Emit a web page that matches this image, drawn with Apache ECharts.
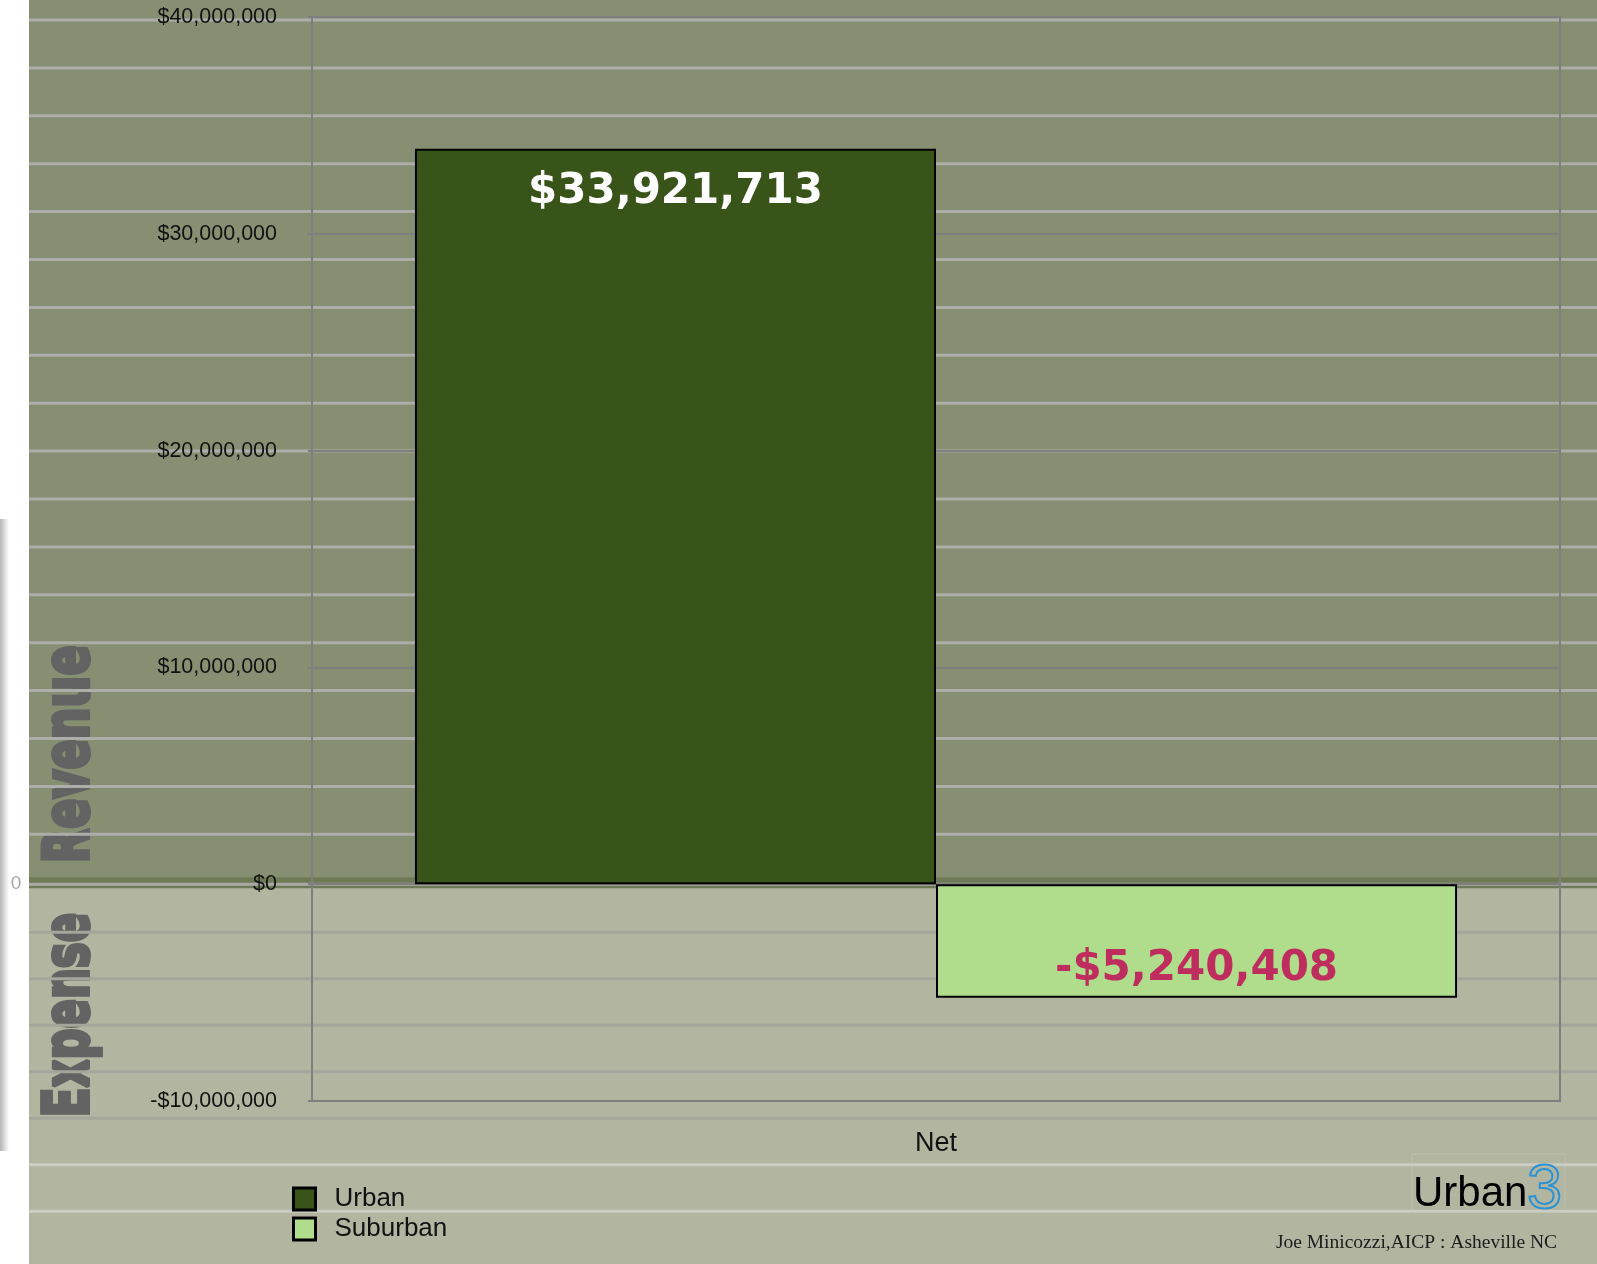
<!DOCTYPE html>
<html>
<head>
<meta charset="utf-8">
<script src="https://cdn.jsdelivr.net/npm/echarts@6/dist/echarts.min.js"></script>
<style>
  html, body { margin: 0; padding: 0; background: #ffffff; }
  #chart { width: 1597px; height: 1264px; }
</style>
</head>
<body>
<div id="chart"></div>
<script>
// Net fiscal result, urban vs suburban development
const CATEGORIES = ['Net'];
const SERIES_NAMES = ['Urban', 'Suburban'];
const URBAN_VALUES = [33921713];
const SUBURBAN_VALUES = [-5240408];
const Y_TICKS = [-10000000, 0, 10000000, 20000000, 30000000, 40000000];
const BAND_LABELS = ['Revenue', 'Expense'];
const ZERO_MARK = '0';
const LOGO_WORD = 'Urban';
const LOGO_DIGIT = '3';
const CREDIT = 'Joe Minicozzi,AICP : Asheville NC';

function money(v) {
  const s = '$' + String(Math.abs(v)).replace(/\B(?=(\d{3})+(?!\d))/g, ',');
  return v < 0 ? '-' + s : s;
}

const W = 1597, H = 1264;
const FRAME = '#7f7f7f';
const chart = echarts.init(document.getElementById('chart'), null, { renderer: 'canvas' });

const labelFont = {
  fontFamily: '"DejaVu Sans", Verdana, sans-serif',
  fontWeight: 'bold',
  fontSize: 42
};

// split line colours follow the tick order; the zero rule is drawn separately
const splitColors = Y_TICKS.map(t => (t === 0 ? 'rgba(0,0,0,0)' : FRAME));

chart.setOption({
  backgroundColor: '#ffffff',
  animation: false,
  grid: {
    left: 312, right: 37, top: 17, bottom: 163,
    show: true, borderColor: FRAME, borderWidth: 2, backgroundColor: 'transparent'
  },
  legend: {
    orient: 'vertical',
    left: 287, top: 1181,
    itemWidth: 22, itemHeight: 22, itemGap: 4,
    icon: 'rect',
    data: SERIES_NAMES,
    itemStyle: { borderColor: '#000', borderWidth: 3 },
    textStyle: {
      fontFamily: '"Liberation Sans", Arial, sans-serif',
      fontSize: 26, color: '#111', padding: [0, 0, 0, 14]
    }
  },
  xAxis: {
    type: 'category',
    data: CATEGORIES,
    axisLine: { show: true, lineStyle: { color: FRAME, width: 2 } },
    axisTick: { show: true, length: 5, lineStyle: { color: FRAME, width: 2 } },
    axisLabel: {
      fontFamily: '"Liberation Sans", Arial, sans-serif',
      fontSize: 27, color: '#111', margin: 29
    },
    splitLine: { show: false }
  },
  yAxis: {
    type: 'value',
    min: Y_TICKS[0],
    max: Y_TICKS[Y_TICKS.length - 1],
    interval: Y_TICKS[1] - Y_TICKS[0],
    axisLine: { show: true, lineStyle: { color: FRAME, width: 2 } },
    axisTick: { show: true, length: 4, lineStyle: { color: FRAME, width: 2 } },
    axisLabel: {
      formatter: money,
      fontFamily: '"Liberation Sans", Arial, sans-serif',
      fontSize: 21.5, color: '#111', margin: 35
    },
    splitLine: { show: true, lineStyle: { color: splitColors, width: 2 } }
  },
  series: [
    {
      name: SERIES_NAMES[0],
      type: 'bar',
      data: URBAN_VALUES,
      barGap: '0%',
      barCategoryGap: '16.5%',
      itemStyle: { color: '#385418', borderColor: '#000', borderWidth: 2 },
      label: Object.assign({
        show: true, position: 'insideTop', distance: 22,
        color: '#ffffff', formatter: p => money(p.value)
      }, labelFont)
    },
    {
      name: SERIES_NAMES[1],
      type: 'bar',
      data: SUBURBAN_VALUES,
      barGap: '0%',
      barCategoryGap: '16.5%',
      itemStyle: { color: '#B0DD8C', borderColor: '#000', borderWidth: 2 },
      label: Object.assign({
        show: true, position: 'insideBottom', distance: 8,
        color: '#BE2D5E', formatter: p => money(p.value)
      }, labelFont)
    }
  ]
});

// Backdrop: revenue band above zero, expense band below, ruled paper lines
const zeroY = chart.convertToPixel({ yAxisIndex: 0 }, 0);
const left = 29;
const g = [];

g.push({ type: 'rect', z: -10, shape: { x: left, y: 0, width: W - left, height: zeroY }, style: { fill: '#878F72' } });
g.push({ type: 'rect', z: -10, shape: { x: left, y: zeroY, width: W - left, height: H - zeroY }, style: { fill: '#B2B5A0' } });

// soft shadow along the left page edge
g.push({
  type: 'rect', z: -10,
  shape: { x: 0, y: 519, width: 9, height: 632 },
  style: {
    fill: new echarts.graphic.LinearGradient(0, 0, 1, 0, [
      { offset: 0, color: '#b4b4b4' }, { offset: 1, color: '#ffffff' }
    ])
  }
});

// ruled lines across the backdrop
function rule(y, color) {
  g.push({
    type: 'line', z: -9,
    shape: { x1: left, y1: y, x2: W, y2: y },
    style: { stroke: color, lineWidth: 3 }
  });
}
for (let y = 20; y < zeroY - 12; y += 47.9) rule(y, '#ADADA9');
for (let y = zeroY + 48; y < H - 30; y += 46.5) rule(y, y > 1150 ? '#CBCCC2' : '#A5A69B');

// zero divider
g.push({ type: 'rect', z: -8, shape: { x: left, y: zeroY - 7, width: W - left, height: 6 }, style: { fill: '#6E7A55' } });
g.push({ type: 'rect', z: -8, shape: { x: left, y: zeroY + 1, width: W - left, height: 3 }, style: { fill: '#6E7A55' } });
g.push({ type: 'line', z: -7, shape: { x1: left, y1: zeroY, x2: W, y2: zeroY }, style: { stroke: '#A9A9A6', lineWidth: 3 } });

// band captions
const captionStyle = {
  font: 'bold 62px "DejaVu Sans", sans-serif',
  fill: '#636363', stroke: '#636363', lineWidth: 4, lineJoin: 'round',
  align: 'left', verticalAlign: 'middle'
};
g.push({
  type: 'text', z: -9.5, x: 72, y: zeroY - 21, rotation: Math.PI / 2, scaleX: 0.72,
  style: Object.assign({ text: BAND_LABELS[0] }, captionStyle)
});
g.push({
  type: 'text', z: -9.5, x: 72, y: zeroY + 233, rotation: Math.PI / 2, scaleX: 0.70,
  style: Object.assign({ text: BAND_LABELS[1] }, captionStyle)
});
g.push({
  type: 'text', z: 1, x: 16, y: zeroY,
  style: { text: ZERO_MARK, font: '19px "Liberation Sans", sans-serif', fill: '#A8A8A8', align: 'center', verticalAlign: 'middle' }
});

// logo block
g.push({ type: 'rect', z: -8, shape: { x: 1412, y: 1154, width: 153, height: 58 }, style: { fill: 'none', stroke: 'rgba(200,202,190,0.6)', lineWidth: 1 } });
g.push({
  type: 'text', z: 1, x: 1413, y: 1194,
  style: { text: LOGO_WORD, font: '42px "Liberation Sans", Arial, sans-serif', fill: '#000', align: 'left', verticalAlign: 'middle' }
});
g.push({
  type: 'text', z: 1, x: 1527, y: 1191,
  style: { text: LOGO_DIGIT, font: '63px "Liberation Sans", Arial, sans-serif', fill: 'none', stroke: '#2B93D5', lineWidth: 2, align: 'left', verticalAlign: 'middle' }
});
g.push({
  type: 'text', z: 1, x: 1557, y: 1243,
  style: { text: CREDIT, font: '19.5px "Liberation Serif", "Times New Roman", serif', fill: '#1c1c1c', align: 'right', verticalAlign: 'middle' }
});

chart.setOption({ graphic: { elements: g } });
</script>
</body>
</html>
